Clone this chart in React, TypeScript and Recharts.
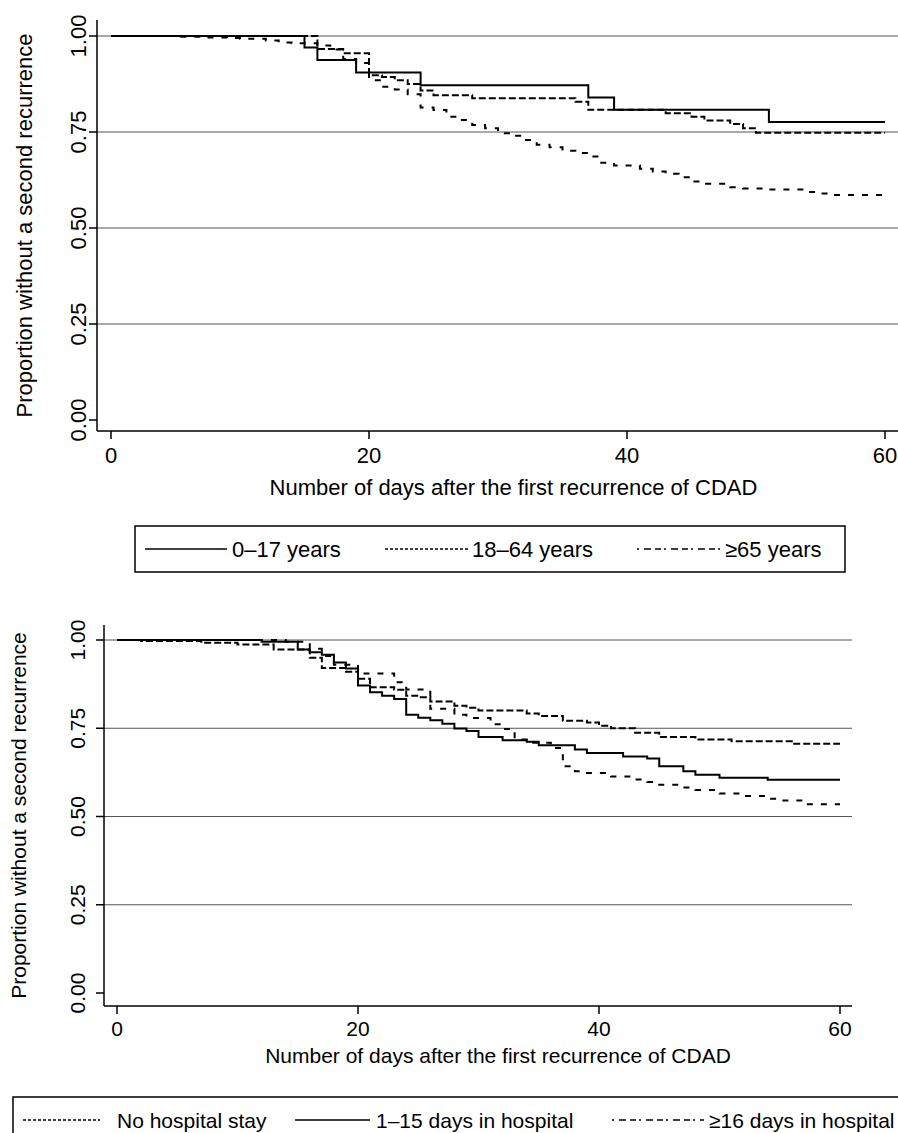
import React from 'react';
import { LineChart, Line, XAxis, YAxis, ReferenceLine } from 'recharts';

const FONT = '"Liberation Sans", Arial, Helvetica, sans-serif';

// ---- top panel: age groups ----
const AGE_LABELS = ['0–17 years', '18–64 years', '≥65 years'];

const age0to17Days = [0, 15, 16, 19, 24, 37, 39, 51, 60];
const age0to17Surv = [1, 0.97, 0.9375, 0.905, 0.872, 0.84, 0.808, 0.776, 0.776];

const age18to64Days = [0, 16, 18, 20, 21, 22, 23, 24, 25, 28, 36, 37, 43, 45, 46, 48, 49, 50, 60];
const age18to64Surv = [1, 0.966, 0.955, 0.898, 0.893, 0.885, 0.875, 0.858, 0.846, 0.838, 0.829, 0.808, 0.799, 0.79, 0.78, 0.771, 0.76, 0.748, 0.748];

const age65Days = [0, 5, 7, 9, 10, 12, 13, 14, 16, 17, 18, 19, 20, 21, 22, 23, 24, 25, 26, 27, 28, 29, 30, 31, 32, 33, 34, 35, 36, 37, 38, 39, 41, 42, 43, 44, 45, 46, 48, 49, 51, 54, 55, 56, 60];
const age65Surv = [1, 0.998, 0.996, 0.995, 0.993, 0.988, 0.983, 0.981, 0.975, 0.965, 0.94, 0.93, 0.885, 0.868, 0.861, 0.848, 0.814, 0.807, 0.79, 0.781, 0.768, 0.76, 0.747, 0.74, 0.729, 0.717, 0.71, 0.701, 0.695, 0.686, 0.67, 0.663, 0.654, 0.647, 0.641, 0.632, 0.621, 0.615, 0.606, 0.603, 0.6, 0.594, 0.59, 0.586, 0.586];

// ---- bottom panel: hospital stay ----
const HOSP_LABELS = ['No hospital stay', '1–15 days in hospital', '≥16 days in hospital'];

const noStayDays = [0, 2, 7, 10, 13, 16, 17, 19, 20, 21, 23, 24, 25, 26, 28, 29, 30, 34, 35, 37, 39, 40, 41, 43, 45, 48, 51, 56, 60];
const noStaySurv = [1, 0.997, 0.992, 0.987, 0.973, 0.95, 0.921, 0.91, 0.89, 0.866, 0.859, 0.842, 0.838, 0.826, 0.814, 0.808, 0.8, 0.792, 0.785, 0.771, 0.766, 0.757, 0.75, 0.737, 0.725, 0.718, 0.713, 0.706, 0.706];

const stay1to15Days = [0, 12, 15, 16, 17, 18, 19, 20, 21, 22, 23, 24, 25, 26, 27, 28, 29, 30, 32, 34, 35, 38, 39, 42, 44, 45, 47, 48, 50, 54, 60];
const stay1to15Surv = [1, 0.995, 0.973, 0.965, 0.958, 0.936, 0.919, 0.871, 0.852, 0.842, 0.833, 0.788, 0.78, 0.773, 0.763, 0.749, 0.742, 0.725, 0.716, 0.712, 0.702, 0.69, 0.68, 0.67, 0.664, 0.642, 0.628, 0.618, 0.61, 0.604, 0.604];

const stay16Days = [0, 14, 16, 17, 18, 20, 23, 24, 26, 28, 29, 31, 32, 33, 34, 36, 37, 38, 39, 41, 43, 44, 45, 47, 48, 50, 52, 54, 55, 57, 60];
const stay16Surv = [1, 0.995, 0.975, 0.955, 0.93, 0.905, 0.88, 0.86, 0.805, 0.788, 0.779, 0.761, 0.748, 0.718, 0.709, 0.694, 0.642, 0.628, 0.623, 0.613, 0.605, 0.598, 0.59, 0.582, 0.575, 0.565, 0.558, 0.55, 0.545, 0.535, 0.535];

const Y_TICKS = [0, 0.25, 0.5, 0.75, 1];
const X_TICKS = [0, 20, 40, 60];
const GRID_VALUES = [0.25, 0.5, 0.75, 1];

const X_TITLE = 'Number of days after the first recurrence of CDAD';
const Y_TITLE = 'Proportion without a second recurrence';

// line patterns: curve dash / legend-sample dash
const SOLID = { curve: undefined, key: undefined };
const SHORT_DASH = { curve: '7 3', key: '3 2' };
const LONG_DASH = { curve: '6 8', key: '2 5 7 4 6 3' };

type Pattern = { curve?: string; key?: string };

const toPoints = (days: number[], surv: number[]) => days.map((d, i) => ({ day: d, surv: surv[i] }));

type Series = { name: string; data: { day: number; surv: number }[]; pattern: Pattern };

const topSeries: Series[] = [
  { name: AGE_LABELS[0], data: toPoints(age0to17Days, age0to17Surv), pattern: SOLID },
  { name: AGE_LABELS[1], data: toPoints(age18to64Days, age18to64Surv), pattern: SHORT_DASH },
  { name: AGE_LABELS[2], data: toPoints(age65Days, age65Surv), pattern: LONG_DASH },
];

const bottomSeries: Series[] = [
  { name: HOSP_LABELS[0], data: toPoints(noStayDays, noStaySurv), pattern: SHORT_DASH },
  { name: HOSP_LABELS[1], data: toPoints(stay1to15Days, stay1to15Surv), pattern: SOLID },
  { name: HOSP_LABELS[2], data: toPoints(stay16Days, stay16Surv), pattern: LONG_DASH },
];

function RotatedTick({ y, payload, cx, fontSize }: any) {
  return (
    <text
      x={cx}
      y={y}
      transform={`rotate(-90 ${cx} ${y})`}
      textAnchor="middle"
      dominantBaseline="central"
      fontSize={fontSize}
      fontFamily={FONT}
      fill="#000"
    >
      {Number(payload.value).toFixed(2)}
    </text>
  );
}

interface PanelProps {
  series: Series[];
  height: number;
  marginRight: number;
  yAxisWidth: number;
  xAxisHeight: number;
  xDomain: [number, number];
  yDomain: [number, number];
  fontSize: number;
  tickLabelX: number;
  yTitleX: number;
  xTitleOffset: number;
  xTitleDx: number;
  xTickMargin: number;
}

function KMPanel(p: PanelProps) {
  return (
    <LineChart width={898} height={p.height} margin={{ top: 20, right: p.marginRight, bottom: 0, left: 0 }}>
      {GRID_VALUES.map((v) => (
        <ReferenceLine key={v} y={v} stroke="#555" strokeWidth={1} />
      ))}
      <XAxis
        type="number"
        dataKey="day"
        domain={p.xDomain}
        allowDataOverflow
        ticks={X_TICKS}
        height={p.xAxisHeight}
        tickSize={8}
        tickMargin={p.xTickMargin}
        axisLine={{ stroke: '#000', strokeWidth: 1.5 }}
        tickLine={{ stroke: '#000', strokeWidth: 1.5 }}
        tick={{ fill: '#000', fontSize: p.fontSize, fontFamily: FONT }}
        label={{
          value: X_TITLE,
          position: 'insideBottom',
          offset: p.xTitleOffset,
          dx: p.xTitleDx,
          style: { fill: '#000', fontSize: p.fontSize, fontFamily: FONT },
        }}
      />
      <YAxis
        type="number"
        dataKey="surv"
        domain={p.yDomain}
        allowDataOverflow
        ticks={Y_TICKS}
        width={p.yAxisWidth}
        tickSize={8}
        axisLine={{ stroke: '#000', strokeWidth: 1.5 }}
        tickLine={{ stroke: '#000', strokeWidth: 1.5 }}
        tick={<RotatedTick cx={p.tickLabelX} fontSize={p.fontSize} />}
        label={{
          value: Y_TITLE,
          angle: -90,
          position: 'insideLeft',
          offset: p.yTitleX,
          style: { fill: '#000', fontSize: p.fontSize, fontFamily: FONT, textAnchor: 'middle' },
        }}
      />
      {p.series.map((s) => (
        <Line
          key={s.name}
          data={s.data}
          dataKey="surv"
          name={s.name}
          type="stepAfter"
          stroke="#000"
          strokeWidth={2}
          strokeDasharray={s.pattern.curve}
          dot={false}
          activeDot={false}
          isAnimationActive={false}
        />
      ))}
    </LineChart>
  );
}

interface LegendItem {
  label: string;
  pattern: Pattern;
  x1: number;
  x2: number;
  tx: number;
}

function LegendBox({ left, top, width, height, items, fontSize }: { left: number; top: number; width: number; height: number; items: LegendItem[]; fontSize: number }) {
  const cy = height / 2;
  return (
    <svg width={width + 2} height={height + 2} style={{ position: 'absolute', left: left - 1, top: top - 1 }}>
      <rect x={1} y={1} width={width} height={height} fill="#fff" stroke="#000" strokeWidth={1.5} />
      {items.map((it) => (
        <g key={it.label}>
          <line x1={it.x1 - left + 1} x2={it.x2 - left + 1} y1={cy + 1} y2={cy + 1} stroke="#000" strokeWidth={1.5} strokeDasharray={it.pattern.key} />
          <text x={it.tx - left + 1} y={cy + 1} dominantBaseline="central" fontSize={fontSize} fontFamily={FONT} fill="#000">
            {it.label}
          </text>
        </g>
      ))}
    </svg>
  );
}

export default function App() {
  return (
    <div style={{ position: 'absolute', left: 0, top: 0, width: 898, height: 1133, overflow: 'hidden', background: '#fff' }}>
      <div style={{ position: 'absolute', left: 0, top: 0 }}>
        <KMPanel
          series={topSeries}
          height={500}
          marginRight={0}
          yAxisWidth={97}
          xAxisHeight={69}
          xDomain={[-14 / 12.9, 787 / 12.9]}
          yDomain={[-11 / 384, 1 + 16 / 384]}
          fontSize={22}
          tickLabelX={78}
          yTitleX={24}
          xTitleOffset={5}
          xTitleDx={16}
          xTickMargin={8}
        />
      </div>
      <LegendBox
        left={135}
        top={526}
        width={710}
        height={46}
        fontSize={22}
        items={[
          { label: AGE_LABELS[0], pattern: SOLID, x1: 145, x2: 227, tx: 232 },
          { label: AGE_LABELS[1], pattern: SHORT_DASH, x1: 385, x2: 469, tx: 472 },
          { label: AGE_LABELS[2], pattern: LONG_DASH, x1: 637, x2: 722, tx: 725 },
        ]}
      />
      <div style={{ position: 'absolute', left: 0, top: 605 }}>
        <KMPanel
          series={bottomSeries}
          height={480}
          marginRight={46}
          yAxisWidth={104}
          xAxisHeight={79}
          xDomain={[-13 / 12.05, 735 / 12.05]}
          yDomain={[-13 / 353, 1 + 15 / 353]}
          fontSize={21}
          tickLabelX={77}
          yTitleX={19}
          xTitleOffset={22}
          xTitleDx={20}
          xTickMargin={7}
        />
      </div>
      <LegendBox
        left={13}
        top={1097}
        width={900}
        height={46}
        fontSize={21}
        items={[
          { label: HOSP_LABELS[0], pattern: SHORT_DASH, x1: 23, x2: 100, tx: 117 },
          { label: HOSP_LABELS[1], pattern: SOLID, x1: 295, x2: 370, tx: 376 },
          { label: HOSP_LABELS[2], pattern: LONG_DASH, x1: 612, x2: 704, tx: 709 },
        ]}
      />
    </div>
  );
}
